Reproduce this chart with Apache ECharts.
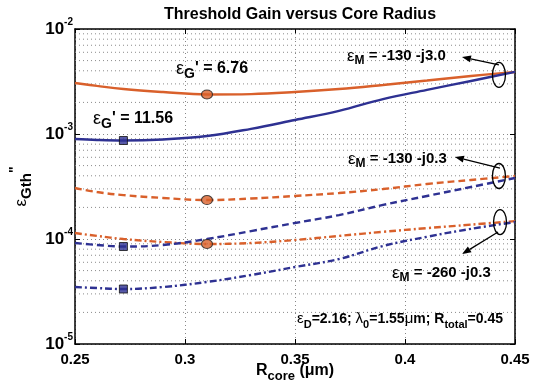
<!DOCTYPE html>
<html>
<head>
<meta charset="utf-8">
<script src="https://cdn.jsdelivr.net/npm/echarts@6/dist/echarts.min.js"></script>
<style>
  html, body { margin: 0; padding: 0; background: #fff; }
  #chart { width: 541px; height: 389px; }
</style>
</head>
<body>
<div id="chart"></div>
<script>
// R_core (um)
const rCore = [0.25, 0.26, 0.272, 0.29, 0.31, 0.33, 0.35, 0.37, 0.39, 0.41, 0.43, 0.45];
// eps_G' = 6.76 (orange)
const g676_m130j30 = [3.06e-3, 2.87e-3, 2.68e-3, 2.51e-3, 2.38e-3, 2.40e-3, 2.51e-3, 2.68e-3, 2.93e-3, 3.23e-3, 3.57e-3, 3.90e-3];
const g676_m130j03 = [3.06e-4, 2.80e-4, 2.62e-4, 2.46e-4, 2.35e-4, 2.43e-4, 2.57e-4, 2.74e-4, 2.99e-4, 3.34e-4, 3.65e-4, 3.98e-4];
const g676_m260j03 = [1.14e-4, 1.07e-4, 1.00e-4, 9.36e-5, 8.96e-5, 9.16e-5, 9.78e-5, 1.07e-4, 1.17e-4, 1.27e-4, 1.37e-4, 1.48e-4];
// eps_G' = 11.56 (blue)
const g1156_m130j30 = [8.96e-4, 8.77e-4, 8.67e-4, 8.87e-4, 9.57e-4, 1.12e-3, 1.36e-3, 1.66e-3, 2.15e-3, 2.63e-3, 3.20e-3, 3.90e-3];
const g1156_m130j03 = [9.16e-5, 8.77e-5, 8.48e-5, 8.77e-5, 1.00e-4, 1.19e-4, 1.42e-4, 1.69e-4, 2.11e-4, 2.57e-4, 3.13e-4, 3.81e-4];
const g1156_m260j03 = [3.49e-5, 3.41e-5, 3.34e-5, 3.49e-5, 3.90e-5, 4.54e-5, 5.41e-5, 6.45e-5, 8.58e-5, 1.05e-4, 1.25e-4, 1.45e-4];
// markers
const circleX = 0.31;
const circleY = [2.38e-3, 2.35e-4, 8.96e-5];
const squareX = 0.272;
const squareY = [8.67e-4, 8.48e-5, 3.34e-5];
// y minor grid
const minorGrid = [];
[1e-5, 1e-4, 1e-3].forEach(d => { for (let k = 2; k <= 9; k++) minorGrid.push(k * d) });

const ORANGE = '#D9602B';
const BLUE = '#2E3192';
const FONT = 'Liberation Sans';

const chart = echarts.init(document.getElementById('chart'));

function pairs (ys) {
  return rCore.map((x, i) => [x, ys[i]]);
}
function curve (ys, color, type) {
  return {
    type: 'line',
    data: pairs(ys),
    smooth: 0.4,
    symbol: 'none',
    silent: true,
    lineStyle: { color: color, width: 2.4, type: type },
    z: 3
  };
}

// dotted minor grid lines, one per value
const gridSeries = minorGrid.map(v => ({
  type: 'line',
  data: [[0.25, v], [0.45, v]],
  symbol: 'none',
  silent: true,
  lineStyle: { color: '#8a8a8a', width: 1, type: [1, 3] },
  z: 1
}));

const supRich = {
  b: { fontFamily: FONT, fontSize: 17, fontWeight: 'bold', color: '#000', lineHeight: 24 },
  s: { fontFamily: FONT, fontSize: 10, fontWeight: 'bold', color: '#000', verticalAlign: 'top', lineHeight: 12 }
};

const option = {
  animation: false,
  backgroundColor: '#fff',
  title: {
    text: 'Threshold Gain versus Core Radius',
    left: 295,
    textAlign: 'center',
    top: 2,
    textStyle: { fontFamily: FONT, fontSize: 16, fontWeight: 'bold', color: '#000' }
  },
  grid: { left: 75, right: 26, top: 29, bottom: 45, outerBoundsMode: 'none', containLabel: false },
  xAxis: [{
    type: 'value',
    min: 0.25,
    max: 0.45,
    interval: 0.05,
    name: '{r|R}{c|core}{u| (μm)}',
    nameLocation: 'middle',
    nameGap: 15,
    nameMoveOverlap: false,
    nameTextStyle: {
      rich: {
        r: { fontFamily: FONT, fontSize: 16, fontWeight: 'bold', color: '#000', lineHeight: 24 },
        c: { fontFamily: FONT, fontSize: 13, fontWeight: 'bold', color: '#000', verticalAlign: 'bottom', lineHeight: 14 },
        u: { fontFamily: FONT, fontSize: 16, fontWeight: 'bold', color: '#000', lineHeight: 24 }
      }
    },
    axisLine: { lineStyle: { color: '#000', width: 1.5 } },
    axisTick: { inside: true, length: 5, lineStyle: { color: '#000' } },
    axisLabel: {
      margin: 8,
      fontFamily: FONT, fontSize: 15, fontWeight: 'bold', color: '#000',
      formatter: v => String(+v.toFixed(2))
    },
    splitLine: { show: true, lineStyle: { color: '#888', type: [1, 3], width: 1 } }
  }, {
    type: 'value',
    position: 'top',
    min: 0.25,
    max: 0.45,
    interval: 0.05,
    axisLine: { lineStyle: { color: '#000', width: 1.5 } },
    axisTick: { inside: true, length: 5, lineStyle: { color: '#000' } },
    axisLabel: { show: false },
    splitLine: { show: false }
  }],
  yAxis: [{
    type: 'log',
    logBase: 10,
    min: 1e-5,
    max: 1e-2,
    name: '{e|ε}{g|Gth}{p|"}',
    nameLocation: 'middle',
    nameGap: 41,
    nameMoveOverlap: false,
    nameRotate: 90,
    nameTextStyle: {
      rich: {
        e: { fontFamily: FONT, fontSize: 17, color: '#000', lineHeight: 26 },
        g: { fontFamily: FONT, fontSize: 15, fontWeight: 'bold', color: '#000', verticalAlign: 'bottom', lineHeight: 16 },
        p: { fontFamily: FONT, fontSize: 14, fontWeight: 'bold', color: '#000', verticalAlign: 'top', lineHeight: 16 }
      }
    },
    axisLine: { show: true, lineStyle: { color: '#000', width: 1.5 } },
    axisTick: { show: true, inside: true, length: 5, lineStyle: { color: '#000' } },
    axisLabel: {
      margin: 2,
      formatter: v => '{b|10}{s|' + Math.round(Math.log10(v)) + '}',
      rich: supRich
    },
    splitLine: { show: true, lineStyle: { color: '#888', type: [1, 3], width: 1 } }
  }, {
    type: 'log',
    logBase: 10,
    min: 1e-5,
    max: 1e-2,
    position: 'right',
    axisLine: { show: true, lineStyle: { color: '#000', width: 1.5 } },
    axisTick: { show: true, inside: true, length: 5, lineStyle: { color: '#000' } },
    axisLabel: { show: false },
    splitLine: { show: false }
  }],
  series: gridSeries.concat([
    curve(g676_m130j30, ORANGE, 'solid'),
    curve(g676_m130j03, ORANGE, [7, 4]),
    curve(g676_m260j03, ORANGE, [7, 3, 2, 3]),
    curve(g1156_m130j30, BLUE, 'solid'),
    curve(g1156_m130j03, BLUE, [7, 4]),
    curve(g1156_m260j03, BLUE, [7, 3, 2, 3]),
    {
      type: 'scatter',
      data: circleY.map(y => [circleX, y]),
      symbol: 'circle',
      symbolSize: [11, 9],
      itemStyle: { color: ORANGE, borderColor: '#222', borderWidth: 1 },
      z: 5
    },
    {
      type: 'scatter',
      data: squareY.map(y => [squareX, y]),
      symbol: 'rect',
      symbolSize: 8,
      itemStyle: { color: BLUE, borderColor: '#111', borderWidth: 1 },
      z: 5
    }
  ])
};

chart.setOption(option);

// annotations
const annRich = {
  e: { fontFamily: FONT, fontSize: 18, color: '#000', lineHeight: 24 },
  t: { fontFamily: FONT, fontSize: 16, fontWeight: 'bold', color: '#000', lineHeight: 24 },
  s: { fontFamily: FONT, fontSize: 14, fontWeight: 'bold', color: '#000', verticalAlign: 'bottom', lineHeight: 14 },
  m: { fontFamily: FONT, fontSize: 15, fontWeight: 'bold', color: '#000', lineHeight: 22 },
  ms: { fontFamily: FONT, fontSize: 12, fontWeight: 'bold', color: '#000', verticalAlign: 'bottom', lineHeight: 12 },
  me: { fontFamily: FONT, fontSize: 17, color: '#000', lineHeight: 22 },
  p: { fontFamily: FONT, fontSize: 14, fontWeight: 'bold', color: '#000', lineHeight: 22 },
  ps: { fontFamily: FONT, fontSize: 11, fontWeight: 'bold', color: '#000', verticalAlign: 'bottom', lineHeight: 12 },
  pe: { fontFamily: FONT, fontSize: 15, color: '#000', lineHeight: 22 }
};
function label (text, x, y) {
  return {
    type: 'text',
    x: x,
    y: y,
    z: 10,
    style: { text: text, rich: annRich, verticalAlign: 'middle', align: 'left' }
  };
}

const ellipses = [[0.4427, 3.65e-3], [0.4427, 3.98e-4], [0.4432, 1.45e-4]];
// arrow tail/head offsets from ellipse centre
const arrows = [[[0, -10], [-37, -18]], [[1, -8], [-44, -19]], [[-2, 10], [-38, 32]]];
const graphics = [
  label('{e|ε}{s|G}{t|\' = 6.76}', 176, 69),
  label('{e|ε}{s|G}{t|\' = 11.56}', 93, 119),
  label('{me|ε}{ms|M}{m| = -130 -j3.0}', 347, 56),
  label('{me|ε}{ms|M}{m| = -130 -j0.3}', 348, 159),
  label('{me|ε}{ms|M}{m| = -260 -j0.3}', 392, 273),
  label('{pe|ε}{ps|D}{p|=2.16; }{pe|λ}{ps|0}{p|=1.55}{pe|μ}{p|m; R}{ps|total}{p|=0.45}', 297, 319)
];
ellipses.forEach((e, i) => {
  const p = chart.convertToPixel({ gridIndex: 0 }, e);
  graphics.push({
    type: 'ellipse',
    shape: { cx: p[0], cy: p[1], rx: 6.5, ry: 12.5 },
    style: { fill: 'none', stroke: '#000', lineWidth: 1.3 },
    z: 10
  });
  const t = [p[0] + arrows[i][0][0], p[1] + arrows[i][0][1]];
  const h = [p[0] + arrows[i][1][0], p[1] + arrows[i][1][1]];
  const dx = h[0] - t[0];
  const dy = h[1] - t[1];
  const len = Math.sqrt(dx * dx + dy * dy);
  const ux = dx / len;
  const uy = dy / len;
  const base = [h[0] - ux * 9, h[1] - uy * 9];
  graphics.push({
    type: 'line',
    shape: { x1: t[0], y1: t[1], x2: base[0], y2: base[1] },
    style: { stroke: '#000', lineWidth: 1.3 },
    z: 10
  });
  graphics.push({
    type: 'polygon',
    shape: { points: [h, [base[0] - uy * 3.5, base[1] + ux * 3.5], [base[0] + uy * 3.5, base[1] - ux * 3.5]] },
    style: { fill: '#000' },
    z: 10
  });
});
chart.setOption({ graphic: graphics });
</script>
</body>
</html>
